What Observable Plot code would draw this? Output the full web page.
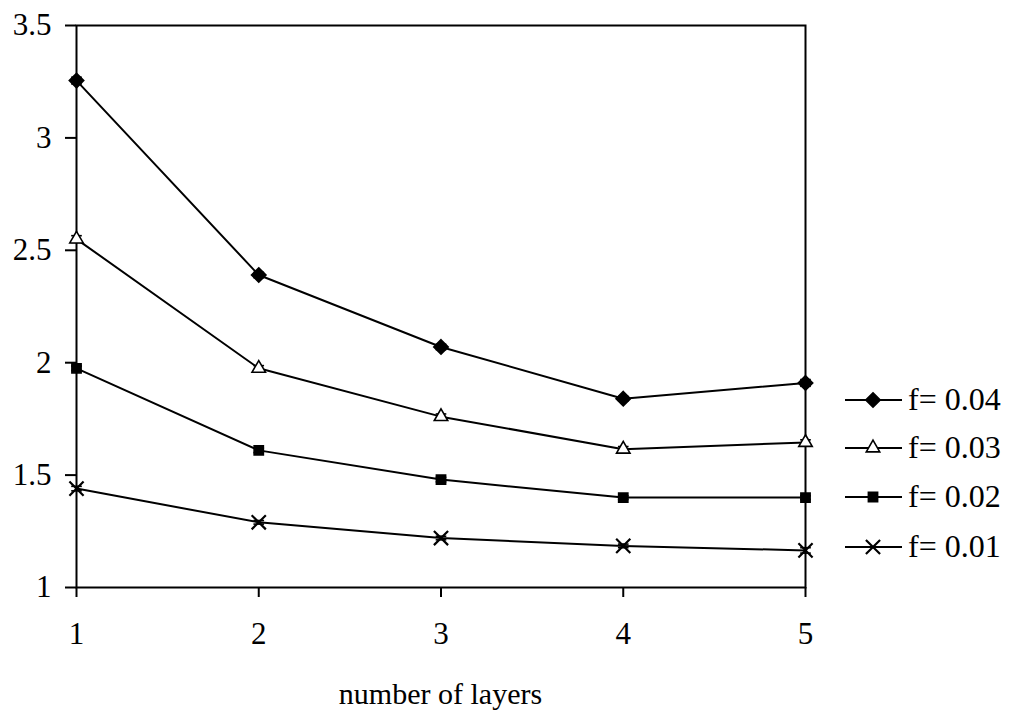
<!DOCTYPE html>
<html>
<head>
<meta charset="utf-8">
<script src="https://cdn.jsdelivr.net/npm/d3@7"></script>
<script src="https://cdn.jsdelivr.net/npm/@observablehq/plot@0.6"></script>
<style>
  html, body { margin: 0; padding: 0; background: #fff; }
  #wrap { position: relative; width: 1013px; height: 713px; font-family: "Liberation Serif", "Times New Roman", serif; color: #000; }
  #wrap svg { position: absolute; left: 0; top: 0; }
  #xtitle { position: absolute; left: 76px; width: 729px; top: 674px; text-align: center; font-size: 30px; line-height: 40px; }
  #legend { position: absolute; left: 843px; top: 380px; }
  .lrow { position: absolute; left: 0; width: 170px; height: 40px; }
  .lrow svg { position: absolute; left: 0; top: 0; }
  .lrow span { position: absolute; left: 65px; top: -1px; font-size: 32px; line-height: 40px; white-space: nowrap; }
</style>
</head>
<body>
<div id="wrap"></div>
<script>
// ---- data ----
const layers = [1, 2, 3, 4, 5];
const seriesNames = ["f= 0.04", "f= 0.03", "f= 0.02", "f= 0.01"];
const f04 = [3.255, 2.39, 2.07, 1.84, 1.91];
const f03 = [2.55, 1.975, 1.76, 1.615, 1.645];
const f02 = [1.975, 1.61, 1.48, 1.40, 1.40];
const f01 = [1.44, 1.29, 1.22, 1.185, 1.165];
const err04 = [0.015, 0.012, 0.012, 0.01, 0.015];
const err03 = [0.015, 0.012, 0.012, 0.012, 0.012];
const err02 = [0.01, 0.01, 0.01, 0.008, 0.008];
const err01 = [0.01, 0.008, 0.008, 0.008, 0.012];
const xTicks = [1, 2, 3, 4, 5];
const yTicks = [1, 1.5, 2, 2.5, 3, 3.5];
const xTitle = "number of layers";

// ---- symbols ----
const symbolOf = { "f= 0.04": "diamond2", "f= 0.03": "triangle", "f= 0.02": "square", "f= 0.01": "times" };
const fillOf = { "f= 0.04": "black", "f= 0.03": "white", "f= 0.02": "black", "f= 0.01": "none" };
const rOf = { "f= 0.04": 6.5, "f= 0.03": 5, "f= 0.02": 5.2, "f= 0.01": 6.5 };
const d3Sym = { diamond2: d3.symbolDiamond2, triangle: d3.symbolTriangle, square: d3.symbolSquare, times: d3.symbolTimes };
const capSymbol = { draw(ctx, size) { const r = Math.sqrt(size); ctx.moveTo(-r, 0); ctx.lineTo(r, 0); } };

const allValues = [f04, f03, f02, f01];
const allErrs = [err04, err03, err02, err01];
const rows = [];
seriesNames.forEach((s, i) => {
  layers.forEach((x, j) => {
    rows.push({ series: s, layers: x, value: allValues[i][j], err: allErrs[i][j] });
  });
});

const markMarks = seriesNames.map(s => Plot.dot(rows.filter(d => d.series === s), {
  x: "layers", y: "value",
  symbol: d3Sym[symbolOf[s]],
  r: rOf[s],
  fill: fillOf[s],
  stroke: "black",
  strokeWidth: s === "f= 0.01" ? 2.2 : 1.6
}));

const chart = Plot.plot({
  width: 1013,
  height: 713,
  marginLeft: 76,
  marginRight: 208,
  marginTop: 25,
  marginBottom: 126,
  style: { fontFamily: "'Liberation Serif', 'Times New Roman', serif", fontSize: "30px", color: "black", background: "white", overflow: "visible" },
  x: { domain: [1, 5] },
  y: { domain: [1, 3.5] },
  marks: [
    Plot.axisX({ ticks: xTicks, tickFormat: d => String(d), tickSize: 10, tickPadding: 24, label: null, stroke: "black", strokeWidth: 2, fontSize: 31 }),
    Plot.axisY({ ticks: yTicks, tickFormat: d => String(d), tickSize: 11, tickPadding: 14, label: null, stroke: "black", strokeWidth: 2, fontSize: 31 }),
    Plot.frame({ stroke: "black", strokeWidth: 2 }),
    Plot.line(rows, { x: "layers", y: "value", z: "series", stroke: "black", strokeWidth: 2 }),
    Plot.ruleX(rows, { x: "layers", y1: d => d.value - d.err, y2: d => d.value + d.err, stroke: "black", strokeWidth: 1.6 }),
    Plot.dot(rows, { x: "layers", y: d => d.value - d.err, symbol: capSymbol, r: 3, stroke: "black", strokeWidth: 1.6 }),
    Plot.dot(rows, { x: "layers", y: d => d.value + d.err, symbol: capSymbol, r: 3, stroke: "black", strokeWidth: 1.6 }),
    ...markMarks
  ]
});

const wrap = document.getElementById("wrap");
wrap.appendChild(chart);

const t = document.createElement("div");
t.id = "xtitle";
t.textContent = xTitle;
wrap.appendChild(t);

// ---- legend ----
const legend = document.createElement("div");
legend.id = "legend";
const rowTops = [0, 48, 97, 147];
seriesNames.forEach((s, i) => {
  const row = document.createElement("div");
  row.className = "lrow";
  row.style.top = rowTops[i] + "px";
  const svg = d3.create("svg").attr("width", 62).attr("height", 40);
  svg.append("line").attr("x1", 2).attr("x2", 59).attr("y1", 20).attr("y2", 20).attr("stroke", "black").attr("stroke-width", 2);
  const r = rOf[s];
  svg.append("path")
    .attr("transform", "translate(30,20)")
    .attr("d", d3.symbol(d3Sym[symbolOf[s]], r * r * Math.PI)())
    .attr("fill", fillOf[s])
    .attr("stroke", "black")
    .attr("stroke-width", s === "f= 0.01" ? 2.2 : 1.6);
  row.appendChild(svg.node());
  const span = document.createElement("span");
  span.textContent = s;
  row.appendChild(span);
  legend.appendChild(row);
});
wrap.appendChild(legend);
</script>
</body>
</html>
